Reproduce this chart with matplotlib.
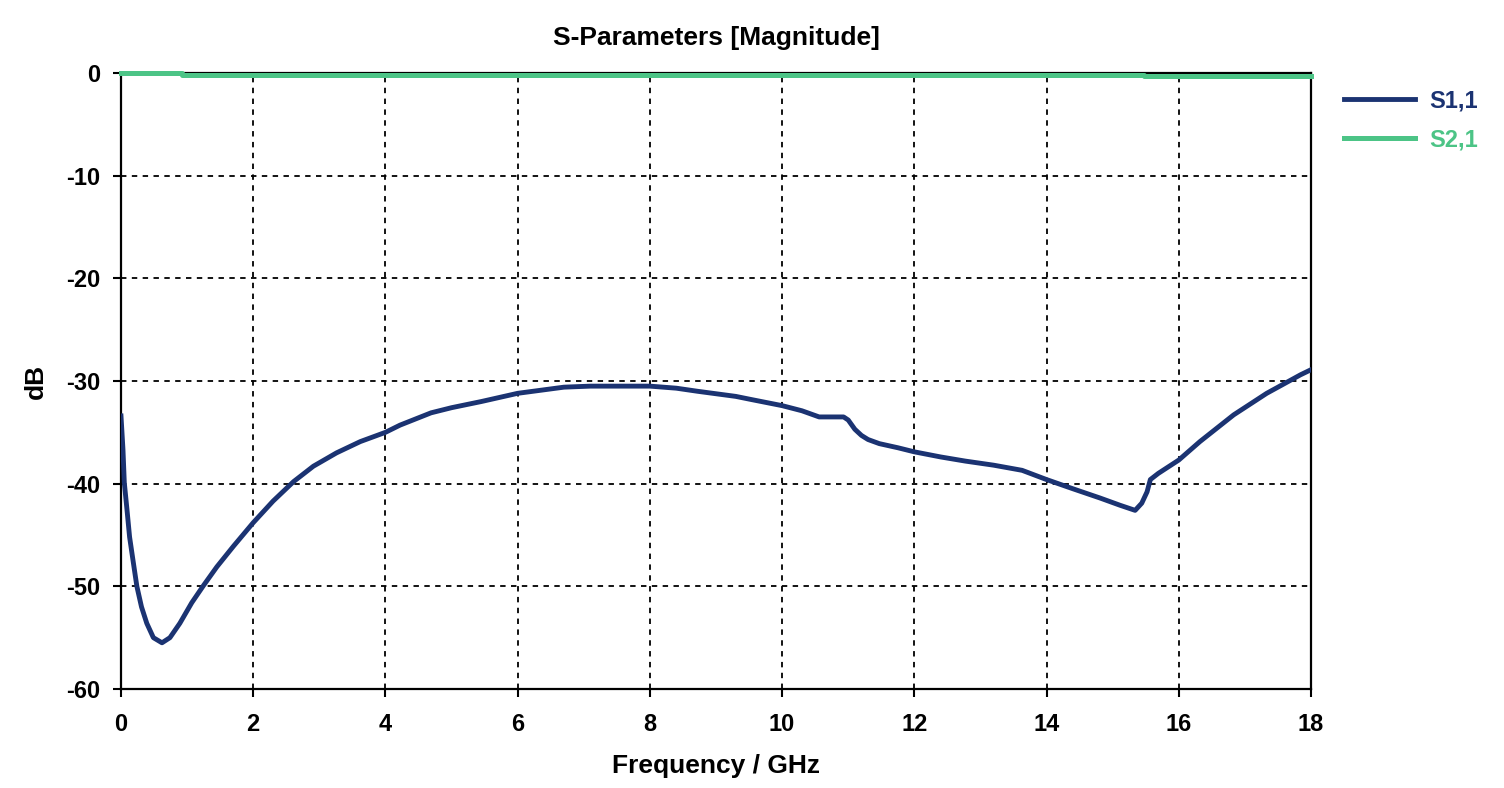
import matplotlib
matplotlib.use('Agg')
import matplotlib.pyplot as plt

# S1,1 (frequency in GHz, magnitude in dB)
s11_freq = [0.0, 0.03, 0.05, 0.09, 0.13, 0.18, 0.24, 0.31, 0.39, 0.49, 0.62, 0.74,
            0.89, 1.07, 1.25, 1.45, 1.7, 2.0, 2.3, 2.61, 2.91, 3.26, 3.62, 4.0,
            4.22, 4.69, 5.0, 5.45, 6.0, 6.35, 6.7, 7.1, 7.46, 8.0, 8.4, 8.72,
            9.3, 9.53, 10.0, 10.3, 10.56, 10.93, 11.0, 11.1, 11.2, 11.3, 11.47,
            11.75, 12.0, 12.4, 12.77, 13.2, 13.63, 14.0, 14.4, 14.81, 15.11, 15.34,
            15.44, 15.52, 15.57, 15.69, 16.0, 16.32, 16.83, 17.33, 17.84, 18.0]
s11_db = [-33.4, -36.7, -39.9, -42.5, -45.2, -47.4, -50.0, -52.0, -53.6, -55.0, -55.5, -55.0,
          -53.6, -51.6, -49.9, -48.1, -46.1, -43.8, -41.7, -39.8, -38.3, -37.0, -35.9, -35.0,
          -34.3, -33.1, -32.6, -32.0, -31.2, -30.9, -30.6, -30.5, -30.5, -30.5, -30.7, -31.0,
          -31.5, -31.8, -32.4, -32.9, -33.5, -33.5, -33.8, -34.7, -35.3, -35.7, -36.1,
          -36.5, -36.9, -37.4, -37.8, -38.2, -38.7, -39.6, -40.5, -41.4, -42.1, -42.6,
          -41.9, -40.8, -39.6, -39.0, -37.7, -35.9, -33.3, -31.2, -29.4, -28.9]

# S2,1 stays at about 0 dB
s21_freq = [0.0, 0.92, 15.47, 18.0]
s21_db = [0.0, -0.15, -0.32, -0.32]

x_ticks = [0, 2, 4, 6, 8, 10, 12, 14, 16, 18]
y_ticks = [0, -10, -20, -30, -40, -50, -60]

navy = '#1b3372'
green = '#4cc486'

plt.rcParams['font.family'] = ['Liberation Sans', 'DejaVu Sans']
plt.rcParams['font.weight'] = 'bold'
plt.rcParams['axes.unicode_minus'] = False

fig = plt.figure(figsize=(15.04, 7.88), dpi=100)
ax = fig.add_axes([121 / 1504, 1 - 689 / 788, 1190 / 1504, 616 / 788])

ax.plot(s11_freq, s11_db, color=navy, linewidth=3.5, label='S1,1', zorder=3)
ax.plot(s21_freq, s21_db, color=green, linewidth=3.6, label='S2,1',
        drawstyle='steps-post', clip_on=False, zorder=4)

ax.set_xlim(0, 18)
ax.set_ylim(-60, 0)
ax.set_xticks(x_ticks)
ax.set_yticks(y_ticks)
ax.tick_params(direction='out', length=6, width=1.5, labelsize=17, colors='black')
ax.tick_params(axis='x', pad=11)
ax.tick_params(axis='y', pad=9)
for lab in ax.get_xticklabels() + ax.get_yticklabels():
    lab.set_fontweight('bold')

ax.grid(True, color='black', linestyle=(0, (3, 3)), linewidth=1.3)
for sp in ax.spines.values():
    sp.set_linewidth(1.6)

ax.set_title('S-Parameters [Magnitude]', fontsize=19, fontweight='bold', pad=20)
ax.set_xlabel('Frequency / GHz', fontsize=19, fontweight='bold', labelpad=13)
ax.set_ylabel('dB', fontsize=19, fontweight='bold', labelpad=13)

leg = ax.legend(loc='upper left', bbox_to_anchor=(1323 / 1504, 1 - 68 / 788),
                bbox_transform=fig.transFigure, frameon=False,
                handlelength=3.0, handletextpad=0.6, labelspacing=0.69,
                labelcolor='linecolor', prop={'weight': 'bold', 'size': 17})

plt.savefig('out.png', dpi=100)
